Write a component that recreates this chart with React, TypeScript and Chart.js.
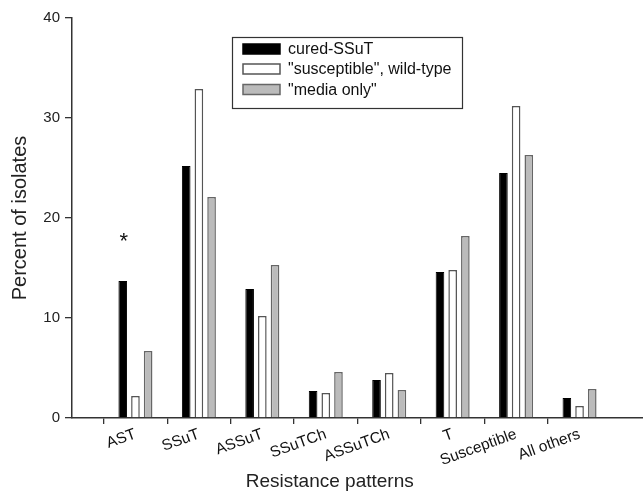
import React, { useEffect, useRef } from "react";
import { Chart, registerables } from "chart.js";

Chart.register(...registerables);

const categories = ["AST", "SSuT", "ASSuT", "SSuTCh", "ASSuTCh", "T", "Susceptible", "All others"];
const seriesNames = ["cured-SSuT", "\"susceptible\", wild-type", "\"media only\""];
const curedSSuT = [13.7, 25.2, 12.9, 2.7, 3.8, 14.6, 24.5, 2.0];
const susceptibleWT = [2.2, 32.9, 10.2, 2.5, 4.5, 14.8, 31.2, 1.2];
const mediaOnly = [6.7, 22.1, 15.3, 4.6, 2.8, 18.2, 26.3, 2.9];
const yTicks = [0, 10, 20, 30, 40];
const xTitle = "Resistance patterns";
const yTitle = "Percent of isolates";
const asteriskCategory = "AST";
const asteriskValue = 18;

const FONT = "'Liberation Sans', Arial, sans-serif";

const pad = (arr: number[]) => [null, ...arr, null];

const overlayPlugin = {
  id: "overlay",
  afterDraw(chart: any) {
    const ctx = chart.ctx;
    const x = chart.scales.x;
    const y = chart.scales.y;
    ctx.save();
    // legend
    const bx = 232, by = 37, bw = 230, bh = 71;
    ctx.strokeStyle = "#333";
    ctx.lineWidth = 1.2;
    ctx.strokeRect(bx + 0.5, by + 0.5, bw, bh);
    const rows = [49, 69, 89.5];
    chart.data.datasets.forEach((ds: any, i: number) => {
      const cy = rows[i];
      ctx.fillStyle = ds.backgroundColor;
      ctx.fillRect(243, cy - 5, 37, 10);
      ctx.strokeStyle = ds.borderColor;
      ctx.lineWidth = 1.5;
      ctx.strokeRect(243, cy - 5, 37, 10);
      ctx.fillStyle = "#111";
      ctx.font = `16px ${FONT}`;
      ctx.textBaseline = "middle";
      ctx.textAlign = "left";
      ctx.fillText(ds.label, 288, cy + 1);
    });
    // asterisk
    const idx = chart.data.labels.indexOf(asteriskCategory);
    const meta = chart.getDatasetMeta(0);
    const bar = meta.data[idx];
    if (bar) {
      ctx.fillStyle = "#111";
      ctx.font = `22px ${FONT}`;
      ctx.textAlign = "center";
      ctx.textBaseline = "middle";
      ctx.fillText("*", bar.x + 1, y.getPixelForValue(asteriskValue) + 4);
    }
    // x title
    ctx.fillStyle = "#222";
    ctx.font = `19px ${FONT}`;
    ctx.textAlign = "center";
    ctx.textBaseline = "alphabetic";
    ctx.fillText(xTitle, x.getPixelForValue(4) + 4, 487);
    ctx.restore();
  },
};

export default function App() {
  const ref = useRef<HTMLCanvasElement | null>(null);
  useEffect(() => {
    if (!ref.current) return;
    const labels = ["", ...categories, ""];
    const chart = new Chart(ref.current, {
      type: "bar",
      data: {
        labels,
        datasets: [
          { label: seriesNames[0], data: pad(curedSSuT) as any, backgroundColor: "#000000", borderColor: "#000000", borderWidth: 1 },
          { label: seriesNames[1], data: pad(susceptibleWT) as any, backgroundColor: "#ffffff", borderColor: "#555555", borderWidth: 1.5 },
          { label: seriesNames[2], data: pad(mediaOnly) as any, backgroundColor: "#bbbbbb", borderColor: "#666666", borderWidth: 1.5 },
        ],
      },
      options: {
        responsive: true,
        maintainAspectRatio: false,
        animation: false,
        categoryPercentage: 0.6,
        barPercentage: 0.68,
        layout: { padding: { top: 18, right: 0, left: 0, bottom: 0 } },
        plugins: { legend: { display: false }, tooltip: { enabled: false } },
        scales: {
          x: {
            offset: false,
            afterFit: (s: any) => { s.height = 73; s.paddingRight = 0; s.paddingLeft = 0; },
            grid: {
              drawOnChartArea: false,
              drawTicks: true,
              tickLength: 6,
              lineWidth: 1.3,
              color: (c: any) => (c.index === 0 || c.index === labels.length - 1 ? "rgba(0,0,0,0)" : "#333"),
            },
            border: { display: true, color: "#333", width: 1.5 },
            ticks: {
              autoSkip: false,
              minRotation: 20,
              maxRotation: 20,
              padding: 1,
              color: "#111",
              font: { family: FONT, size: 15.5 },
            },
          },
          y: {
            min: 0,
            max: 40,
            afterFit: (s: any) => { s.width = 72; },
            afterBuildTicks: (s: any) => { s.ticks = yTicks.map((v) => ({ value: v })); },
            grid: { drawOnChartArea: false, drawTicks: true, tickLength: 7, lineWidth: 1.3, color: "#333" },
            border: { display: true, color: "#333", width: 1.5 },
            ticks: { color: "#222", padding: 5, font: { family: FONT, size: 15 } },
            title: { display: true, text: yTitle, color: "#222", padding: { top: 8, bottom: 0 }, font: { family: FONT, size: 20 } },
          },
        },
      },
      plugins: [overlayPlugin],
    });
    return () => chart.destroy();
  }, []);
  return (
    <div style={{ position: "absolute", left: 0, top: 0, width: 643, height: 491, background: "#fff" }}>
      <canvas ref={ref} />
    </div>
  );
}
